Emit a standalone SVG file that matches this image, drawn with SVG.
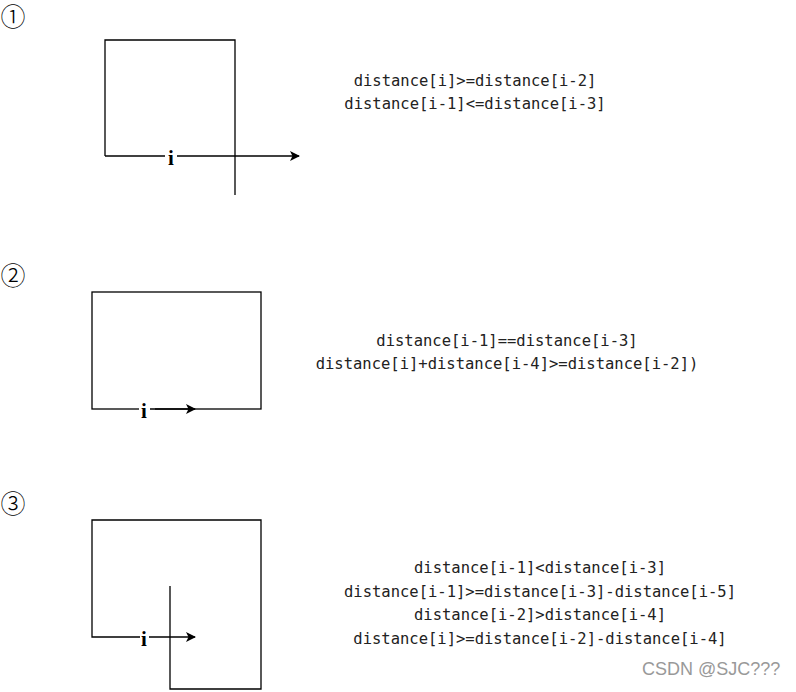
<svg xmlns="http://www.w3.org/2000/svg" width="796" height="692" viewBox="0 0 796 692">
<style>
.ln{stroke:#000;stroke-width:1.3;fill:none}
.code{font-family:"DejaVu Sans Mono","Liberation Mono",monospace;font-size:15.5px;fill:#222;text-anchor:middle}
.lab{font-family:"Liberation Serif","DejaVu Serif",serif;font-weight:bold;font-size:21px;fill:#000;text-anchor:middle}
.num{font-family:"Noto Sans CJK SC","DejaVu Sans",sans-serif;font-size:25px;font-weight:300;fill:#000;text-anchor:middle}
.wm{font-family:"Liberation Sans","DejaVu Sans",sans-serif;font-size:18px;fill:#999}
</style>
<defs>
<marker id="ah" viewBox="0 0 10 10" refX="9" refY="5" markerWidth="10" markerHeight="10" markerUnits="userSpaceOnUse" orient="auto">
<path d="M0,0 L10,5 L0,10 L2.5,5 Z" fill="#000"/>
</marker>
</defs>
<rect width="796" height="692" fill="#fff"/>
<g id="fig1">
<text class="num" x="13" y="26">①</text>
<path class="ln" d="M105,156 V40 H235 V195"/>
<path class="ln" d="M105,156 H299" marker-end="url(#ah)"/>
<rect x="165" y="148" width="12" height="16" fill="#fff"/>
<text class="lab" x="171" y="165">i</text>
<text class="code" x="475" y="86">distance[i]&gt;=distance[i-2]</text>
<text class="code" x="475" y="109">distance[i-1]&lt;=distance[i-3]</text>
</g>
<g id="fig2">
<text class="num" x="13" y="285">②</text>
<rect class="ln" x="92" y="292" width="169" height="117"/>
<rect x="139" y="401" width="16" height="16" fill="#fff"/>
<text class="lab" x="144" y="418">i</text>
<path class="ln" d="M150,409 H195" marker-end="url(#ah)"/>
<text class="code" x="507" y="346">distance[i-1]==distance[i-3]</text>
<text class="code" x="507" y="369">distance[i]+distance[i-4]&gt;=distance[i-2])</text>
</g>
<g id="fig3">
<text class="num" x="13" y="513">③</text>
<path class="ln" d="M170,586 V689 H261 V520 H92 V637 H140"/>
<text class="lab" x="144" y="646">i</text>
<path class="ln" d="M149,637 H195" marker-end="url(#ah)"/>
<text class="code" x="540" y="573">distance[i-1]&lt;distance[i-3]</text>
<text class="code" x="540" y="597">distance[i-1]&gt;=distance[i-3]-distance[i-5]</text>
<text class="code" x="540" y="620">distance[i-2]&gt;distance[i-4]</text>
<text class="code" x="540" y="644">distance[i]&gt;=distance[i-2]-distance[i-4]</text>
</g>
<text class="wm" x="642" y="675">CSDN @SJC???</text>
</svg>
